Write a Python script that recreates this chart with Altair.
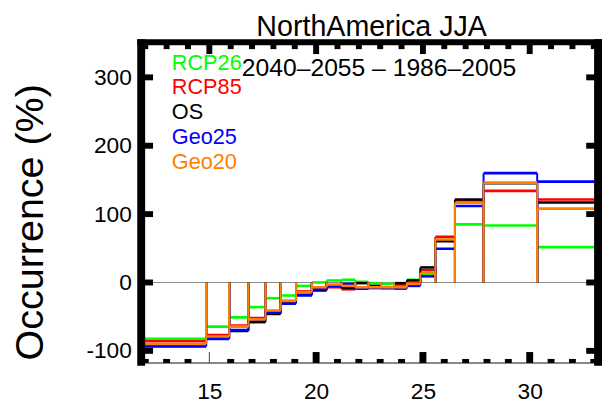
import altair as alt
import pandas as pd

# ---- data ----
edges = [11.0, 14.85, 15.93, 16.83, 17.63, 18.34, 19.06, 19.80, 20.49, 21.19, 21.83,
         22.45, 23.04, 23.65, 24.25, 24.88, 25.58, 26.50, 27.84, 30.35, 34.0]

series_names = ["RCP26", "RCP85", "OS", "Geo25", "Geo20"]
series_colors = ["#00ff00", "#ff0000", "#000000", "#0000ff", "#ff8000"]

rcp26 = [-82.5, -64.6, -51, -36, -23, -19, -5, 0, 3, 4, 1, -1, -2, -2, 4, 12, 61, 85, 83.4, 51.7]
rcp85 = [-86, -77, -63, -52, -42, -27, -13, -12, -7, -10, -9, -8, -8, -3, -1, 18, 66.7, 120, 134, 121.5]
os_ = [-93, -81, -71, -58, -46, -30, -18, -11, -5, -8, -1, -5, -8, -1, 3, 22, 60.3, 121.5, 145, 117]
geo25 = [-93.5, -82.5, -69.5, -55, -44, -31, -19, -10, -5, -2, -9, -8, -8, -9, -5, 9, 49.4, 111.8, 159.9, 147.5]
geo20 = [-90, -79, -64.6, -54, -41, -27, -14, -7, -3, -5, -7, -7, -7, -7, -2, 14, 62.8, 116.6, 146, 108]
series_values = [rcp26, rcp85, os_, geo25, geo20]

y_ticks = [-100, 0, 100, 200, 300]
x_labels = [15, 20, 25, 30]
x_major_thick = [20, 25, 30]
x_major_thin = [15]
x_minor = [i for i in range(12, 34) if i not in x_labels]

title_text = "NorthAmerica JJA"
subtitle_text = "2040\u20132055 \u2013 1986\u20132005"
y_title = "Occurrence (%)"

# ---- layout ----
W, H = 463, 325
FONT = "Liberation Sans"

rows = []
for name, vals in zip(series_names, series_values):
    for i, v in enumerate(vals):
        rows.append({"series": name, "x0": edges[i], "x1": edges[i + 1], "value": v, "zero": 0})
df = pd.DataFrame(rows)

xs = alt.Scale(domain=[11.81, 33.2], nice=False, zero=False)
ys = alt.Scale(domain=[-117.6, 351.4], nice=False, zero=False)

x_axis = alt.Axis(values=x_labels, labelFontSize=23, labelFont=FONT, labelColor="black",
                  domain=False, ticks=False, tickSize=0, grid=False, labelPadding=18,
                  labelFontWeight="normal", labelExpr="'' + datum.value")
y_axis = alt.Axis(values=y_ticks, labelFontSize=23, labelFont=FONT, labelColor="black",
                  domain=False, ticks=False, tickSize=0, grid=False, labelPadding=10,
                  labelFontWeight="normal", labelExpr="'' + datum.value")


def X(field):
    return alt.X(field, type="quantitative", scale=xs, axis=x_axis, title="")


def Y(field):
    return alt.Y(field, type="quantitative", scale=ys, axis=y_axis, title="")


layers = []

# zero line
zero_df = pd.DataFrame({"v": [0]})
layers.append(alt.Chart(zero_df).mark_rule(color="#8c8c8c", strokeWidth=1.2).encode(
    y=Y("v"), x=alt.value(0), x2=alt.value(W)))

# step histograms
for name, col in zip(series_names, series_colors):
    sub = df[df["series"] == name]
    base = alt.Chart(sub)
    layers.append(base.mark_rule(color=col, strokeWidth=2, clip=True).encode(
        x=X("x0"), y=Y("value"), y2="zero"))
    layers.append(base.mark_rule(color=col, strokeWidth=2, clip=True).encode(
        x=X("x1"), y=Y("value"), y2="zero"))
    layers.append(base.mark_rule(color=col, strokeWidth=2.6, clip=True).encode(
        x=X("x0"), x2="x1", y=Y("value")))

# frame
layers.append(alt.Chart(zero_df).mark_rule(color="#666666", strokeWidth=1.5).encode(
    x=alt.value(0), x2=alt.value(W), y=alt.value(H)))
layers.append(alt.Chart(zero_df).mark_rule(color="black", strokeWidth=6).encode(
    x=alt.value(-4), x2=alt.value(W + 4), y=alt.value(0)))
layers.append(alt.Chart(zero_df).mark_rule(color="black", strokeWidth=8).encode(
    x=alt.value(0), y=alt.value(-3), y2=alt.value(H + 3)))
layers.append(alt.Chart(zero_df).mark_rule(color="black", strokeWidth=8).encode(
    x=alt.value(W), y=alt.value(-3), y2=alt.value(H + 3)))

# y ticks (left and right, inward)
yt_df = pd.DataFrame({"t": y_ticks})
layers.append(alt.Chart(yt_df).mark_rule(color="black", strokeWidth=6).encode(
    y=Y("t"), x=alt.value(0), x2=alt.value(12)))
layers.append(alt.Chart(yt_df).mark_rule(color="black", strokeWidth=6).encode(
    y=Y("t"), x=alt.value(W - 12), x2=alt.value(W)))

# x ticks bottom
layers.append(alt.Chart(pd.DataFrame({"t": x_minor})).mark_rule(color="black", strokeWidth=7).encode(
    x=X("t"), y=alt.value(H - 4), y2=alt.value(H)))
layers.append(alt.Chart(pd.DataFrame({"t": x_major_thick})).mark_rule(color="black", strokeWidth=7).encode(
    x=X("t"), y=alt.value(H - 11), y2=alt.value(H)))
layers.append(alt.Chart(pd.DataFrame({"t": x_major_thin})).mark_rule(color="#444444", strokeWidth=1).encode(
    x=X("t"), y=alt.value(H - 11), y2=alt.value(H)))
# x ticks top
layers.append(alt.Chart(pd.DataFrame({"t": x_minor})).mark_rule(color="black", strokeWidth=6).encode(
    x=X("t"), y=alt.value(0), y2=alt.value(7)))
layers.append(alt.Chart(pd.DataFrame({"t": x_labels})).mark_rule(color="black", strokeWidth=6).encode(
    x=X("t"), y=alt.value(0), y2=alt.value(12)))

# texts
def text_layer(txt, x, y, size, color="black", align="left", angle=0):
    mk = dict(font=FONT, fontSize=size, color=color, align=align, baseline="alphabetic")
    if angle:
        mk["angle"] = angle
    return alt.Chart(pd.DataFrame({"s": [txt]})).mark_text(**mk).encode(
        text="s:N", x=alt.value(x), y=alt.value(y))

layers.append(text_layer(title_text, 233.5, -6.5, 29, align="center"))
layers.append(text_layer(subtitle_text, 102, 34.3, 25))
layers.append(text_layer(y_title, -100, 182.5, 40, align="center", angle=270))
legend_y = [28.3, 52.7, 78.3, 102.7, 128.3]
for name, col, yy in zip(series_names, series_colors, legend_y):
    layers.append(text_layer(name, 31, yy, 22, color=col))

chart = alt.layer(*layers).properties(
    width=W, height=H,
    autosize=alt.AutoSizeParams(type="none"),
    padding={"left": 135, "top": 32, "right": 4, "bottom": 40},
).configure_view(stroke="transparent").configure(background="white")

chart.save("out.html", embed_options={"renderer": "svg", "actions": False})
